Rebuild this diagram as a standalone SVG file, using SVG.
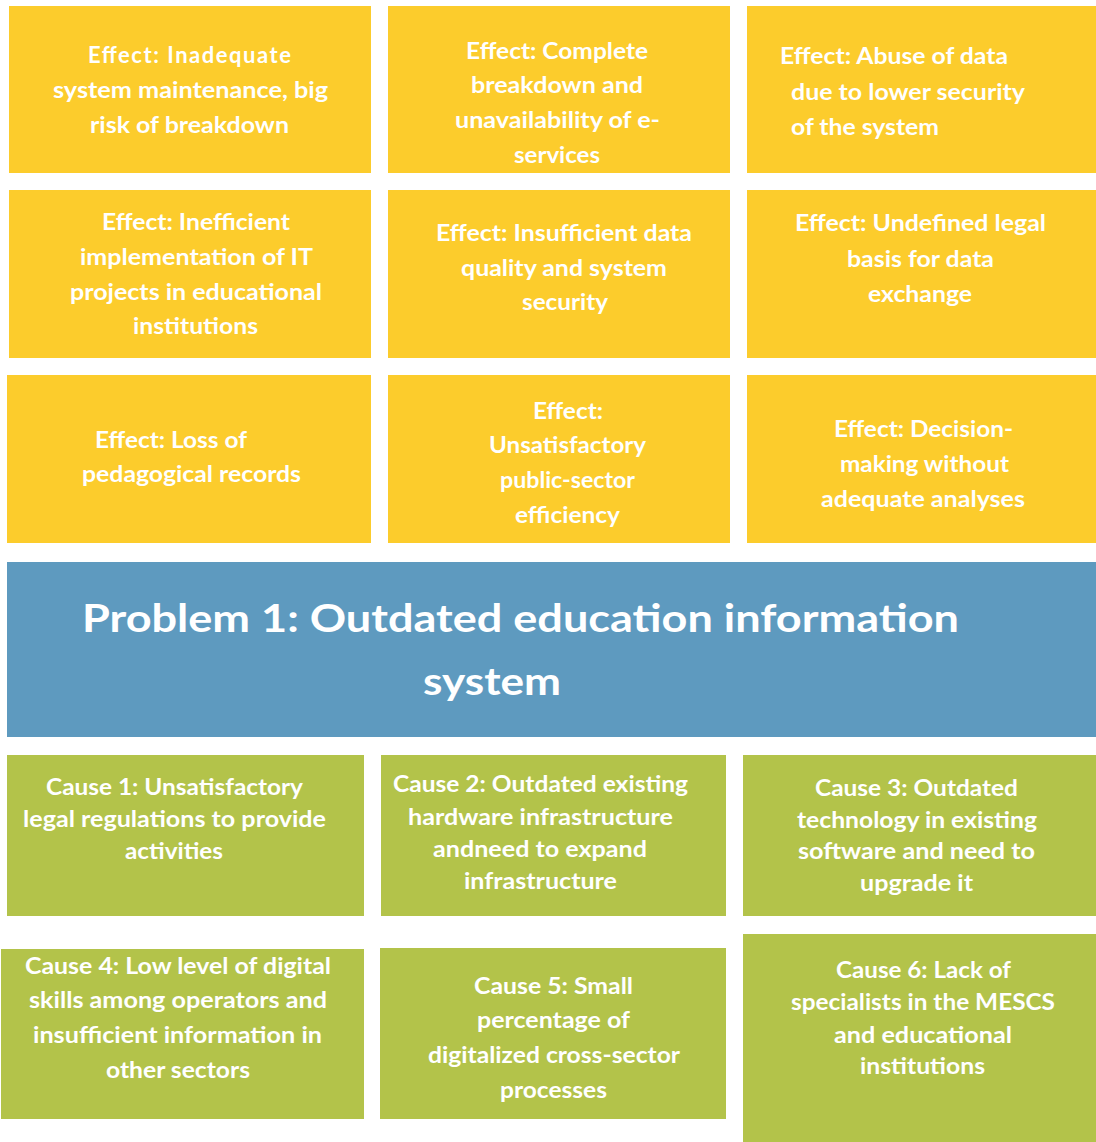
<svg xmlns="http://www.w3.org/2000/svg" width="1096" height="1142" viewBox="0 0 1096 1142">
<style>
.bg{fill:#ffffff}
.eff{fill:#FCCC2C}
.prob{fill:#5E9ABF}
.cau{fill:#B3C34A}
.t{font-family:Lato,"Open Sans","Liberation Sans",sans-serif;font-weight:700;font-size:22px;fill:#ffffff}
.h{font-family:Lato,"Open Sans","Liberation Sans",sans-serif;font-weight:700;font-size:39px;fill:#ffffff}
</style>
<rect class="bg" x="0" y="0" width="1096" height="1142"/>
<g id="effect-1"><rect class="eff" x="9" y="6" width="362" height="167"/>
<text class="t" lengthAdjust="spacingAndGlyphs"><tspan x="88" y="63" textLength="203">Effect: Inadequate</tspan></text>
<text class="t" x="53" y="98" textLength="275" lengthAdjust="spacingAndGlyphs">system maintenance, big</text>
<text class="t" x="90" y="133" textLength="199" lengthAdjust="spacingAndGlyphs">risk of breakdown</text></g>
<g id="effect-2"><rect class="eff" x="388" y="6" width="342" height="167"/>
<text class="t" x="466" y="59" textLength="182" lengthAdjust="spacingAndGlyphs">Effect: Complete</text>
<text class="t" x="471" y="93" textLength="172" lengthAdjust="spacingAndGlyphs">breakdown and</text>
<text class="t" x="455" y="128" textLength="205" lengthAdjust="spacingAndGlyphs">unavailability of e-</text>
<text class="t" x="514" y="163" textLength="86" lengthAdjust="spacingAndGlyphs">services</text></g>
<g id="effect-3"><rect class="eff" x="747" y="6" width="349" height="167"/>
<text class="t" x="780" y="64" textLength="228" lengthAdjust="spacingAndGlyphs">Effect: Abuse of data</text>
<text class="t" x="791" y="100" textLength="234" lengthAdjust="spacingAndGlyphs">due to lower security</text>
<text class="t" x="791" y="135" textLength="148" lengthAdjust="spacingAndGlyphs">of the system</text></g>
<g id="effect-4"><rect class="eff" x="9" y="190" width="362" height="168"/>
<text class="t" x="102" y="230" textLength="188" lengthAdjust="spacingAndGlyphs">Effect: Inefficient</text>
<text class="t" x="80" y="265" textLength="233" lengthAdjust="spacingAndGlyphs">implementation of IT</text>
<text class="t" x="70" y="300" textLength="252" lengthAdjust="spacingAndGlyphs">projects in educational</text>
<text class="t" x="133" y="334" textLength="125" lengthAdjust="spacingAndGlyphs">institutions</text></g>
<g id="effect-5"><rect class="eff" x="388" y="190" width="342" height="168"/>
<text class="t" x="436" y="241" textLength="256" lengthAdjust="spacingAndGlyphs">Effect: Insufficient data</text>
<text class="t" x="461" y="276" textLength="206" lengthAdjust="spacingAndGlyphs">quality and system</text>
<text class="t" x="522" y="310" textLength="86" lengthAdjust="spacingAndGlyphs">security</text></g>
<g id="effect-6"><rect class="eff" x="747" y="190" width="349" height="168"/>
<text class="t" x="795" y="231" textLength="251" lengthAdjust="spacingAndGlyphs">Effect: Undefined legal</text>
<text class="t" x="847" y="267" textLength="147" lengthAdjust="spacingAndGlyphs">basis for data</text>
<text class="t" x="868" y="302" textLength="104" lengthAdjust="spacingAndGlyphs">exchange</text></g>
<g id="effect-7"><rect class="eff" x="7" y="375" width="364" height="168"/>
<text class="t" x="95" y="448" textLength="152" lengthAdjust="spacingAndGlyphs">Effect: Loss of</text>
<text class="t" x="82" y="482" textLength="219" lengthAdjust="spacingAndGlyphs">pedagogical records</text></g>
<g id="effect-8"><rect class="eff" x="388" y="375" width="342" height="168"/>
<text class="t" x="533" y="419" textLength="70" lengthAdjust="spacingAndGlyphs">Effect:</text>
<text class="t" x="489" y="453" textLength="157" lengthAdjust="spacingAndGlyphs">Unsatisfactory</text>
<text class="t" x="500" y="488" textLength="135" lengthAdjust="spacingAndGlyphs">public-sector</text>
<text class="t" x="515" y="523" textLength="105" lengthAdjust="spacingAndGlyphs">efficiency</text></g>
<g id="effect-9"><rect class="eff" x="747" y="375" width="349" height="168"/>
<text class="t" x="834" y="437" textLength="179" lengthAdjust="spacingAndGlyphs">Effect: Decision-</text>
<text class="t" x="840" y="472" textLength="169" lengthAdjust="spacingAndGlyphs">making without</text>
<text class="t" x="821" y="507" textLength="204" lengthAdjust="spacingAndGlyphs">adequate analyses</text></g>
<g id="problem-1"><rect class="prob" x="7" y="562" width="1089" height="175"/>
<text class="h" x="82" y="632" textLength="877" lengthAdjust="spacingAndGlyphs">Problem 1: Outdated education information</text>
<text class="h" x="423" y="695" textLength="138" lengthAdjust="spacingAndGlyphs">system</text></g>
<g id="cause-1"><rect class="cau" x="7" y="755" width="357" height="161"/>
<text class="t" x="46" y="795" textLength="257" lengthAdjust="spacingAndGlyphs">Cause 1: Unsatisfactory</text>
<text class="t" x="23" y="827" textLength="303" lengthAdjust="spacingAndGlyphs">legal regulations to provide</text>
<text class="t" x="125" y="859" textLength="98" lengthAdjust="spacingAndGlyphs">activities</text></g>
<g id="cause-2"><rect class="cau" x="381" y="755" width="345" height="161"/>
<text class="t" x="393" y="792" textLength="295" lengthAdjust="spacingAndGlyphs">Cause 2: Outdated existing</text>
<text class="t" x="408" y="825" textLength="265" lengthAdjust="spacingAndGlyphs">hardware infrastructure</text>
<text class="t" x="433" y="857" textLength="214" lengthAdjust="spacingAndGlyphs">andneed to expand</text>
<text class="t" x="464" y="889" textLength="153" lengthAdjust="spacingAndGlyphs">infrastructure</text></g>
<g id="cause-3"><rect class="cau" x="743" y="755" width="353" height="161"/>
<text class="t" x="815" y="796" textLength="203" lengthAdjust="spacingAndGlyphs">Cause 3: Outdated</text>
<text class="t" x="797" y="828" textLength="240" lengthAdjust="spacingAndGlyphs">technology in existing</text>
<text class="t" x="798" y="859" textLength="237" lengthAdjust="spacingAndGlyphs">software and need to</text>
<text class="t" x="860" y="891" textLength="113" lengthAdjust="spacingAndGlyphs">upgrade it</text></g>
<g id="cause-4"><rect class="cau" x="1" y="949" width="363" height="170"/>
<text class="t" x="25" y="974" textLength="306" lengthAdjust="spacingAndGlyphs">Cause 4: Low level of digital</text>
<text class="t" x="29" y="1008" textLength="298" lengthAdjust="spacingAndGlyphs">skills among operators and</text>
<text class="t" x="33" y="1043" textLength="289" lengthAdjust="spacingAndGlyphs">insufficient information in</text>
<text class="t" x="106" y="1078" textLength="144" lengthAdjust="spacingAndGlyphs">other sectors</text></g>
<g id="cause-5"><rect class="cau" x="380" y="948" width="346" height="171"/>
<text class="t" x="474" y="994" textLength="159" lengthAdjust="spacingAndGlyphs">Cause 5: Small</text>
<text class="t" x="477" y="1028" textLength="153" lengthAdjust="spacingAndGlyphs">percentage of</text>
<text class="t" x="428" y="1063" textLength="252" lengthAdjust="spacingAndGlyphs">digitalized cross-sector</text>
<text class="t" x="500" y="1098" textLength="107" lengthAdjust="spacingAndGlyphs">processes</text></g>
<g id="cause-6"><rect class="cau" x="743" y="934" width="353" height="208"/>
<text class="t" x="836" y="978" textLength="175" lengthAdjust="spacingAndGlyphs">Cause 6: Lack of</text>
<text class="t" x="791" y="1010" textLength="264" lengthAdjust="spacingAndGlyphs">specialists in the MESCS</text>
<text class="t" x="834" y="1043" textLength="178" lengthAdjust="spacingAndGlyphs">and educational</text>
<text class="t" x="860" y="1074" textLength="125" lengthAdjust="spacingAndGlyphs">institutions</text></g>
<g id="connectors"></g>
</svg>
